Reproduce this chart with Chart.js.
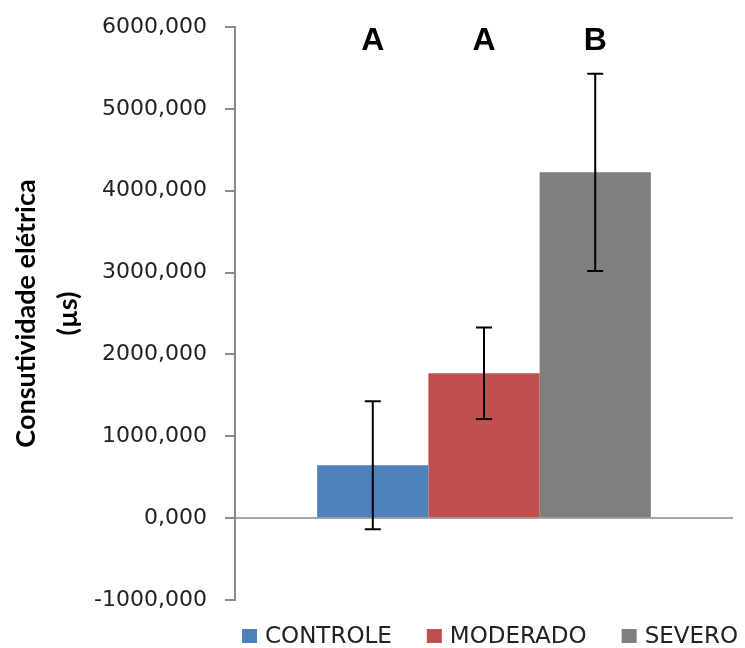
<!DOCTYPE html>
<html>
<head>
<meta charset="utf-8">
<script src="https://cdn.jsdelivr.net/npm/chart.js@4"></script>
<style>
	html, body { margin: 0; padding: 0; background: #fff; }
	#grafico-condutividade { display: block; }
</style>
</head>
<body>
<canvas id="grafico-condutividade" width="745" height="648"></canvas>
<script>
const categorias = [""];
const grupos = ["CONTROLE", "MODERADO", "SEVERO"];
const medias = [647, 1770, 4225];
const erros = [782, 560, 1205];
const letras = ["A", "A", "B"];
const cores = ["#4F81BD", "#C0504D", "#7F7F7F"];
const eixoY = { min: -1000, max: 6000, passo: 1000 };

// barras de erro + letras de significancia
const pluginErros = {
	id: "barrasErro",
	afterDatasetsDraw(chart) {
		const ctx = chart.ctx;
		const y = chart.scales.y;
		ctx.save();
		for (let i = 0; i < grupos.length; i++) {
			const barra = chart.getDatasetMeta(i).data[0];
			const x = barra.x;
			const topo = y.getPixelForValue(medias[i] + erros[i]);
			const base = y.getPixelForValue(medias[i] - erros[i]);
			ctx.strokeStyle = "#000";
			ctx.lineWidth = 2;
			ctx.beginPath();
			ctx.moveTo(x, topo);
			ctx.lineTo(x, base);
			ctx.moveTo(x - 8, topo);
			ctx.lineTo(x + 8, topo);
			ctx.moveTo(x - 8, base);
			ctx.lineTo(x + 8, base);
			ctx.stroke();

			ctx.fillStyle = "#000";
			ctx.font = "bold 32px 'Liberation Sans', Arial, sans-serif";
			ctx.textAlign = "center";
			ctx.textBaseline = "middle";
			ctx.fillText(letras[i], x, chart.chartArea.top + 14);
		}
		ctx.restore();
	}
};

// legenda embaixo, alinhada como no original
const pluginLegenda = {
	id: "legendaBaixo",
	afterDraw(chart) {
		const ctx = chart.ctx;
		ctx.save();
		ctx.font = "23px 'DejaVu Sans', Verdana, sans-serif";
		ctx.textAlign = "left";
		ctx.textBaseline = "middle";
		const yMeio = chart.height - 12;
		let x = 242;
		chart.data.datasets.forEach(ds => {
			ctx.fillStyle = ds.backgroundColor;
			ctx.fillRect(x, yMeio - 7, 15, 14);
			x += 15 + 8;
			ctx.fillStyle = "#222";
			ctx.fillText(ds.label, x, yMeio + 1);
			x += ctx.measureText(ds.label).width + 35;
		});
		ctx.restore();
	}
};

const datasets = [];
for (let i = 0; i < grupos.length; i++) {
	datasets.push({
		label: grupos[i],
		data: [medias[i]],
		backgroundColor: cores[i],
		borderWidth: 0,
		categoryPercentage: 0.67,
		barPercentage: 1.0,
	});
}

const config = {
	type: "bar",
	data: { labels: categorias, datasets: datasets },
	options: {
		responsive: false,
		animation: false,
		layout: { padding: { top: 27, right: 12, left: 0, bottom: 48 } },
		plugins: {
			tooltip: { enabled: false },
			legend: { display: false },
		},
		scales: {
			x: { display: false },
			y: {
				min: eixoY.min,
				max: eixoY.max,
				afterFit: function (escala) {
					escala.width = 235;
					escala.paddingTop = 13;
					escala.paddingBottom = 13;
				},
				border: { display: true, color: "#8A8A8A", width: 2 },
				grid: {
					drawOnChartArea: true,
					tickLength: 10,
					lineWidth: 2,
					color: ctx => (ctx.tick && ctx.tick.value === 0) ? "#A6A6A6" : "rgba(0,0,0,0)",
					tickColor: "#8A8A8A",
				},
				ticks: {
					stepSize: eixoY.passo,
					padding: 18,
					color: "#222",
					font: { family: "'DejaVu Sans', Verdana, sans-serif", size: 22 },
					callback: v => v.toFixed(3).replace(".", ","),
				},
				title: {
					display: true,
					text: ["Consutividade elétrica", "(µs)"],
					color: "#000",
					padding: { top: 5, bottom: 0 },
					font: { family: "Lato, 'Open Sans', sans-serif", size: 27, weight: "bold", lineHeight: 1.555 },
				},
			},
		},
	},
	plugins: [pluginErros, pluginLegenda],
};

const graficoCondutividade = new Chart(document.querySelector("#grafico-condutividade"), config);
</script>
</body>
</html>
